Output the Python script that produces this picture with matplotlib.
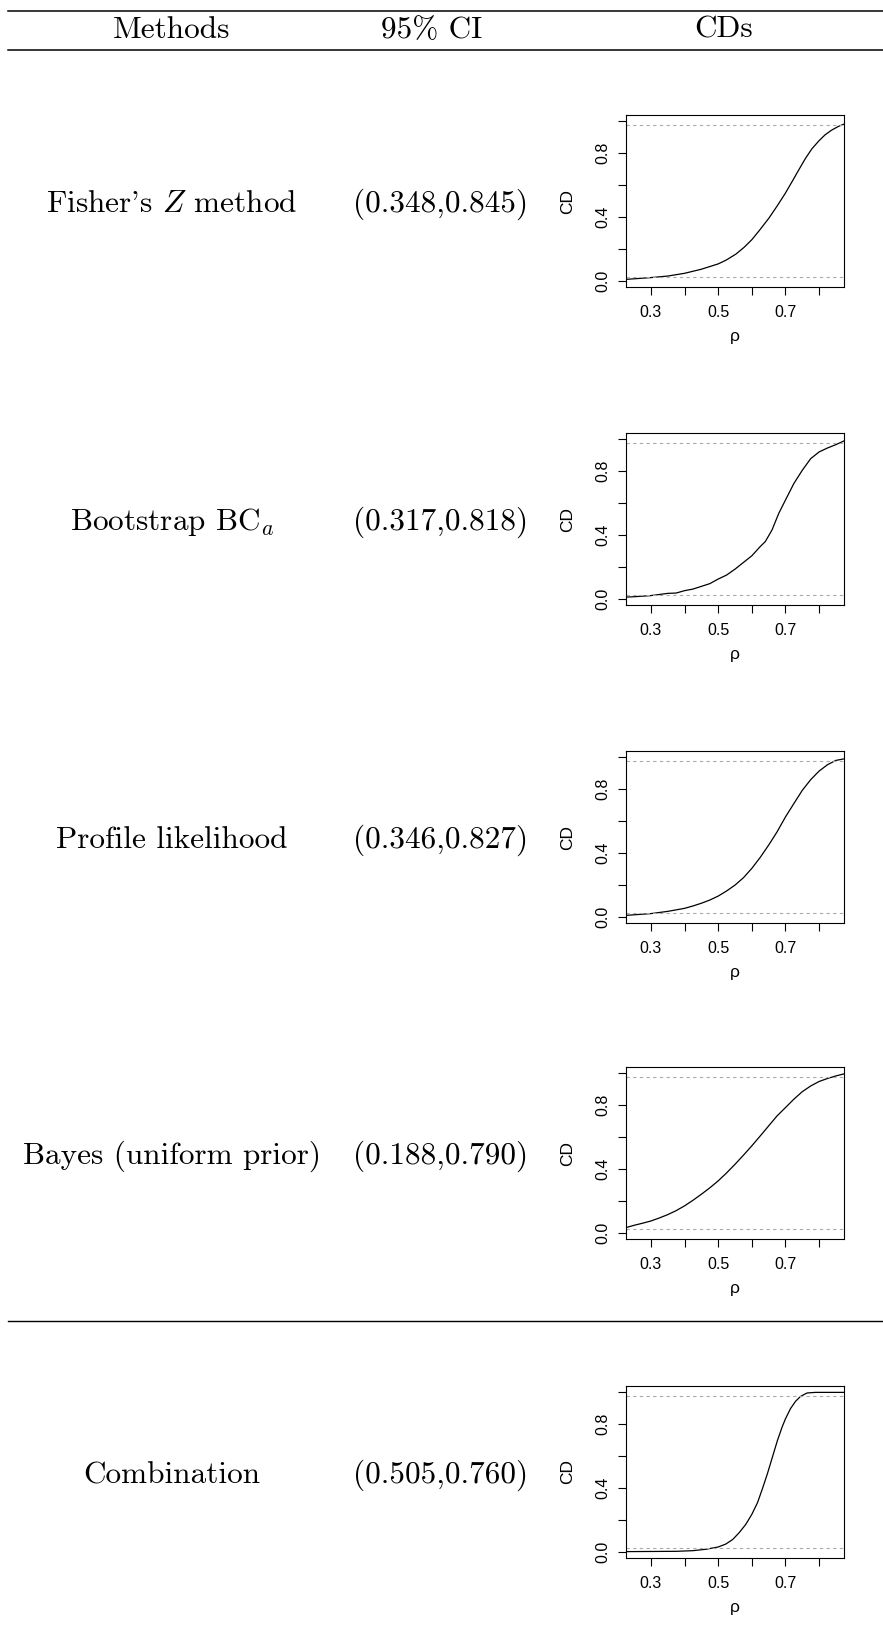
import matplotlib
matplotlib.use("Agg")
import matplotlib.pyplot as plt

plt.rcParams['mathtext.fontset'] = 'cm'

W, H = 883, 1634

# table content
methods = ["Fisher's $Z$ method", "Bootstrap BC$_a$", "Profile likelihood",
           "Bayes (uniform prior)", "Combination"]
intervals = ["(0.348,0.845)", "(0.317,0.818)", "(0.346,0.827)",
             "(0.188,0.790)", "(0.505,0.760)"]
headers = ["Methods", "95% CI", "CDs"]

# confidence distribution curves
rho_fisher = [0.22, 0.30, 0.351, 0.40, 0.449, 0.50, 0.523, 0.553, 0.577, 0.60,
              0.622, 0.651, 0.676, 0.70, 0.72, 0.74, 0.759, 0.779, 0.80, 0.818,
              0.838, 0.858, 0.88]
cd_fisher = [0.007, 0.019, 0.029, 0.046, 0.071, 0.105, 0.128, 0.167, 0.209, 0.257,
             0.314, 0.393, 0.471, 0.550, 0.623, 0.697, 0.766, 0.829, 0.879, 0.916,
             0.946, 0.969, 0.988]

rho_boot = [0.22, 0.25, 0.30, 0.35, 0.375, 0.40, 0.425, 0.45, 0.475, 0.50, 0.525,
            0.55, 0.575, 0.60, 0.625, 0.64, 0.66, 0.68, 0.70, 0.725, 0.75, 0.775,
            0.80, 0.825, 0.85, 0.88]
cd_boot = [0.009, 0.012, 0.019, 0.033, 0.035, 0.050, 0.060, 0.077, 0.094, 0.123,
           0.148, 0.185, 0.227, 0.269, 0.327, 0.358, 0.431, 0.535, 0.619, 0.723,
           0.806, 0.879, 0.921, 0.946, 0.967, 0.996]

rho_prof = [0.22, 0.30, 0.35, 0.40, 0.425, 0.45, 0.475, 0.50, 0.525, 0.55, 0.575,
            0.60, 0.625, 0.65, 0.675, 0.70, 0.725, 0.75, 0.775, 0.80, 0.825, 0.85,
            0.88]
cd_prof = [0.007, 0.019, 0.033, 0.052, 0.067, 0.084, 0.104, 0.129, 0.161, 0.198,
           0.244, 0.303, 0.372, 0.449, 0.532, 0.626, 0.710, 0.793, 0.860, 0.914,
           0.954, 0.981, 0.993]

rho_bayes = [0.22, 0.25, 0.275, 0.30, 0.325, 0.35, 0.375, 0.40, 0.425, 0.45, 0.475,
             0.50, 0.525, 0.55, 0.575, 0.60, 0.625, 0.65, 0.675, 0.70, 0.725, 0.75,
             0.775, 0.80, 0.825, 0.85, 0.88]
cd_bayes = [0.028, 0.046, 0.059, 0.073, 0.092, 0.113, 0.138, 0.168, 0.203, 0.241,
            0.281, 0.325, 0.375, 0.429, 0.486, 0.545, 0.607, 0.670, 0.733, 0.785,
            0.838, 0.885, 0.921, 0.949, 0.968, 0.984, 1.000]

rho_comb = [0.22, 0.376, 0.425, 0.464, 0.50, 0.523, 0.543, 0.562, 0.582, 0.60,
            0.617, 0.631, 0.646, 0.661, 0.676, 0.69, 0.70, 0.715, 0.73, 0.745,
            0.764, 0.789, 0.88]
cd_comb = [0.000, 0.002, 0.006, 0.015, 0.029, 0.048, 0.076, 0.118, 0.171, 0.234,
           0.308, 0.392, 0.487, 0.592, 0.697, 0.782, 0.834, 0.898, 0.944, 0.975,
           0.996, 1.000, 1.000]

curves = [(rho_fisher, cd_fisher), (rho_boot, cd_boot), (rho_prof, cd_prof),
          (rho_bayes, cd_bayes), (rho_comb, cd_comb)]

fig = plt.figure(figsize=(W / 100, H / 100), dpi=100)


def fy(px):
    return 1 - px / H


def fx(px):
    return px / W


serif = dict(family='cmr10', size=22.5, color='black')
sans = ['Liberation Sans', 'DejaVu Sans']

# rules
for y, lw in [(11, 1.1), (50, 1.1), (1321, 1.0)]:
    fig.add_artist(plt.Line2D([fx(8), 1.0], [fy(y), fy(y)], color='black', lw=lw))

# header
for txt, x in zip(headers, [172, 432, 724]):
    fig.text(fx(x), fy(38), txt, ha='center', va='baseline', **serif)

tops = [115, 433, 751, 1067, 1386]
box_h = 172
left, right = 626, 844

for i, (top, (rho, cd)) in enumerate(zip(tops, curves)):
    center = top + box_h / 2
    fig.text(fx(172), fy(center + 11), methods[i], ha='center', va='baseline', **serif)
    fig.text(fx(441), fy(center + 11), intervals[i], ha='center', va='baseline', **serif)

    ax = fig.add_axes([fx(left), fy(top + box_h), (right - left) / W, box_h / H])
    ax.plot(rho, cd, color='black', lw=0.9)
    ax.axhline(0.025, color='#aaaaaa', lw=0.8, ls=(0, (3, 3)))
    ax.axhline(0.975, color='#aaaaaa', lw=0.8, ls=(0, (3, 3)))
    ax.set_xlim(0.226, 0.874)
    ax.set_ylim(-0.04, 1.04)
    ax.set_xticks([0.3, 0.4, 0.5, 0.6, 0.7, 0.8])
    ax.set_xticklabels(['0.3', '', '0.5', '', '0.7', ''])
    ax.set_yticks([0.0, 0.2, 0.4, 0.6, 0.8, 1.0])
    ax.set_yticklabels(['0.0', '', '0.4', '', '0.8', ''], rotation=90, va='center')
    ax.tick_params(axis='both', direction='out', length=6, width=0.8,
                   labelsize=11.5, colors='black')
    ax.tick_params(axis='x', pad=7)
    ax.tick_params(axis='y', pad=5.5)
    for lab in ax.get_xticklabels() + ax.get_yticklabels():
        lab.set_family(sans)
    for sp in ax.spines.values():
        sp.set_linewidth(0.8)
    ax.text(-0.266, 0.5, 'CD', rotation=90, ha='center', va='center',
            transform=ax.transAxes, fontsize=12.5, family=sans)
    ax.text(0.5, -0.29, 'ρ', ha='center', va='center',
            transform=ax.transAxes, fontsize=12.5, family=sans)

fig.savefig('out.png', dpi=100, facecolor='white')
